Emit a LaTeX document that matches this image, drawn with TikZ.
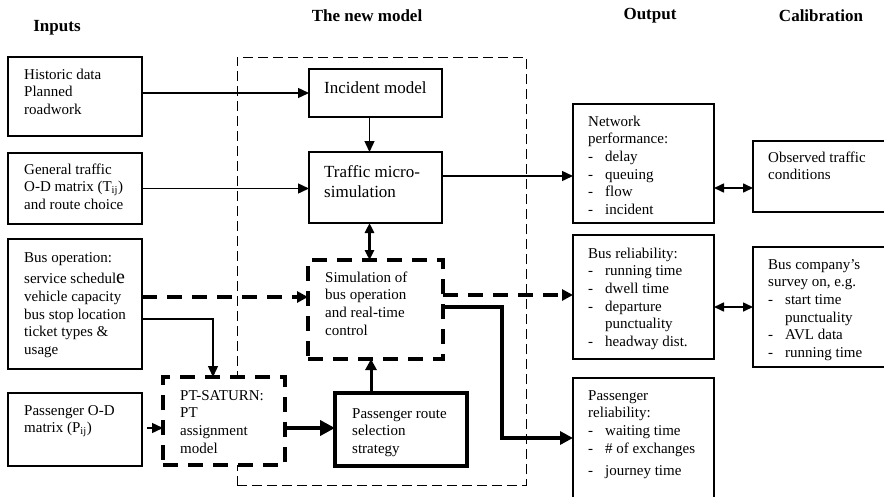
\documentclass[tikz,border=0pt]{standalone}
\usepackage{fontspec}
\setmainfont{Liberation Serif}
\usetikzlibrary{arrows.meta,calc}

% dash used in the bulleted lists
\newcommand\itm{\makebox[17pt][l]{-}}
\newcommand\gap{\hspace*{17pt}}

\tikzset{
  x=1pt, y=-1pt,
  box/.style={draw, line width=1.3pt, fill=white, anchor=north west,
              inner sep=0pt, outer sep=0pt},
  thickdash/.style={line width=3.8pt, dash pattern=on 15pt off 10pt},
  modelframe/.style={draw, line width=1pt, dash pattern=on 10pt off 5pt,
              anchor=north west, inner sep=0pt, outer sep=0pt},
  txt/.style={anchor=north west, align=left, inner sep=0pt,
              font=\fontsize{15}{17.6}\selectfont},
  txtL/.style={anchor=north west, align=left, inner sep=0pt,
              font=\fontsize{17}{19.5}\selectfont},
  head/.style={inner sep=0pt, font=\fontsize{17}{20}\selectfont\bfseries},
  conn/.style={line width=1.4pt, -{Triangle[length=11pt,width=10pt]}},
  dbl/.style={line width=1.6pt,
              {Triangle[length=10pt,width=9pt]}-{Triangle[length=10pt,width=9pt]}},
  heavy/.style={line width=3.8pt, -{Triangle[length=13pt,width=13pt]}},
}

\begin{document}
\begin{tikzpicture}
\useasboundingbox (0,0) rectangle (884,496);

% column headings
\node[head] (hin)  at (57,28)  {Inputs};
\node[head] (hmod) at (367,16) {The new model};
\node[head] (hout) at (650,16) {Output};
\node[head] (hcal) at (821,16) {Calibration};

% frame of the new model
\node[modelframe, minimum width=289pt, minimum height=428pt] (model) at (237,57) {};

% inputs
\node[box, minimum width=134pt, minimum height=79pt]  (hist)  at (8,57)  {};
\node[box, minimum width=134pt, minimum height=71pt]  (gen)   at (8,153) {};
\node[box, minimum width=134pt, minimum height=130pt] (busop) at (8,239) {};
\node[box, minimum width=134pt, minimum height=73pt]  (paxod) at (8,393) {};

% model components
\node[box, minimum width=133pt, minimum height=48pt] (incident) at (309,69)  {};
\node[box, minimum width=133pt, minimum height=71pt] (traffic)  at (309,152) {};
\node[box, thickdash, minimum width=135pt, minimum height=99pt] (simbus) at (308,260) {};
\node[box, thickdash, minimum width=122pt, minimum height=88pt] (ptsat)  at (163,377) {};
\node[box, line width=4pt, minimum width=132pt, minimum height=73pt] (route) at (335,393) {};

% outputs
\node[box, minimum width=141pt, minimum height=119pt] (netperf) at (573,104) {};
\node[box, minimum width=141pt, minimum height=124pt] (busrel)  at (573,235) {};
\node[box, minimum width=141pt, minimum height=130pt] (paxrel)  at (573,378) {};

% calibration
\node[box, minimum width=140pt, minimum height=71pt]  (observed) at (753,141) {};
\node[box, minimum width=140pt, minimum height=120pt] (buscomp)  at (753,247) {};

% box texts
\node[txt] (thist) at (24,66.7) {\strut Historic data\\Planned\\roadwork};
\node[txt] (tgen) at (24,161.7) {\strut General traffic\\O-D matrix (T\textsubscript{ij})\\and route choice};
\node[txt] (tbusop) at (24,249.7) {\strut Bus operation:\\[4pt]
  service schedul{\fontsize{20}{20}\selectfont e}\\vehicle capacity\\bus stop location\\ticket types \&\\usage};
\node[txt] (tpaxod) at (24,402.7) {\strut Passenger O-D\\matrix (P\textsubscript{ij})};

\node[txtL] (tinc) at (324,80) {\strut Incident model};
\node[txtL] (ttraf) at (324,164) {\strut Traffic micro-\\simulation};
\node[txt] (tsim) at (325,269.7) {\strut Simulation of\\bus operation\\and real-time\\control};
\node[txt] (tpt) at (180,387.7) {\strut PT-SATURN:\\PT\\assignment\\model};
\node[txt] (troute) at (352,405.7) {\strut Passenger route\\selection\\strategy};

\node[txt] (tnet) at (588,113.7) {\strut Network\\performance:\\\itm delay\\\itm queuing\\\itm flow\\\itm incident};
\node[txt] (tbusrel) at (588,245.7) {\strut Bus reliability:\\\itm running time\\\itm dwell time\\\itm departure\\\gap punctuality\\\itm headway dist.};
\node[txt] (tpaxrel) at (588,387.7) {\strut Passenger\\reliability:\\\itm waiting time\\\itm \# of exchanges\\[5pt]\itm journey time};

\node[txt] (tobs) at (768,149.7) {\strut Observed traffic\\conditions};
\node[txt] (tbc) at (768,256.7) {\strut Bus company’s\\survey on, e.g.\\\itm start time\\\gap punctuality\\\itm AVL data\\\itm running time};

% connectors
\draw[conn] (hist.east |- incident.west) -- (incident.west);
\draw[conn] (gen.east) -- (gen.east -| traffic.west);
\draw[conn] ($(incident.south)+(-6,0)$) -- ($(traffic.north)+(-6,0)$);
\draw[dbl, line width=2.5pt] ($(traffic.south)+(-6,0)$) -- ($(simbus.north)+(-6,0)$);

\coordinate (tn) at ($(traffic.east)+(0,-11.5)$);
\draw[conn] (tn) -- (tn -| netperf.west);

\coordinate (no) at ($(netperf.east)+(0,24.5)$);
\draw[dbl] (no) -- (no -| observed.west);

\coordinate (bs) at ($(busop.east)+(0,-7)$);
\draw[thickdash, -{Triangle[length=11pt,width=11pt]}] (bs) -- (bs -| simbus.west);

\coordinate (sb) at ($(simbus.east)+(0,-14.5)$);
\draw[thickdash, -{Triangle[length=11pt,width=11pt]}] (sb) -- (sb -| busrel.west);

\coordinate (bp) at ($(busop.east)+(0,15)$);
\draw[conn] (bp) -| ($(ptsat.north)+(-11,0)$);

\coordinate (pp) at ($(paxod.east)+(5,-1.5)$);
\draw[conn] (pp) -- (pp -| ptsat.west);

\coordinate (pr) at ($(route.west)+(0,-1.5)$);
\draw[line width=4.5pt, -{Triangle[length=15pt,width=15pt]}] (pr -| ptsat.east) -- (pr);

\coordinate (rs) at ($(route.north)+(-30,0)$);
\draw[line width=3pt, -{Triangle[length=11pt,width=11pt]}] (rs) -- (rs |- simbus.south);

\coordinate (sp) at ($(simbus.east)+(0,-2.5)$);
\coordinate (pe) at ($(paxrel.west)+(0,-5)$);
\coordinate (bend) at (502,0);
\draw[heavy, line join=miter] (sp) -- (sp -| bend) -- (bend |- pe) -- (pe);

\coordinate (bb) at ($(busrel.east)+(0,10)$);
\draw[dbl] (bb) -- (bb -| buscomp.west);
\end{tikzpicture}
\end{document}
